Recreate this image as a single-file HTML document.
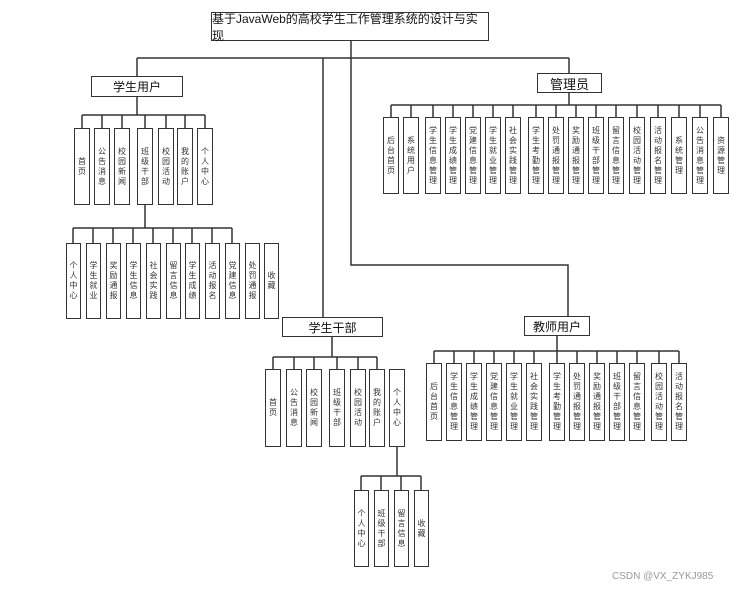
<!DOCTYPE html>
<html><head><meta charset="utf-8"><style>
body{margin:0;background:#fff;}
#c{position:relative;width:748px;height:591px;overflow:hidden;font-family:"Liberation Sans","Noto Sans CJK SC",sans-serif;}
.h{position:absolute;border:1.5px solid #333;background:#fff;box-sizing:border-box;display:flex;align-items:center;justify-content:center;font-size:12px;color:#111;}
.b{position:absolute;border:1.5px solid #333;background:#fff;box-sizing:border-box;display:flex;align-items:center;justify-content:center;}
.b span{writing-mode:vertical-rl;font-size:8px;line-height:9px;color:#333;letter-spacing:2px;}
svg{position:absolute;left:0;top:0;}
</style></head><body><div id="c">
<svg width="748" height="591" stroke="#333" stroke-width="1.5" fill="none">
<path d="M137 58H569M137 58V76M569 58V73M323 58V317M351 40V265H568V316"/>
<path d="M82 115H205M137 97V115M82 115V128M102 115V128M122 115V128M145 115V128M166 115V128M185 115V128M205 115V128"/>
<path d="M145 205V228M73 228H232M73 228V243M93 228V243M113 228V243M133 228V243M153 228V243M173 228V243M192 228V243M212 228V243M232 228V243"/>
<path d="M391 105H721M569 93V105M391 105V117M411 105V117M433 105V117M453 105V117M473 105V117M493 105V117M513 105V117M536 105V117M556 105V117M576 105V117M596 105V117M616 105V117M637 105V117M658 105V117M679 105V117M700 105V117M721 105V117"/>
<path d="M273 357H377M332 337V357M273 357V369M294 357V369M314 357V369M337 357V369M358 357V369M377 357V369"/>
<path d="M397 447V476M361 476H421M361 476V490M381 476V490M401 476V490M421 476V490"/>
<path d="M434 351H679M557 336V351M434 351V363M454 351V363M474 351V363M494 351V363M514 351V363M534 351V363M557 351V363M577 351V363M597 351V363M617 351V363M637 351V363M659 351V363M679 351V363"/>
</svg>
<div class="h" style="left:211px;top:12px;width:278px;height:29px;font-size:12px">基于JavaWeb的高校学生工作管理系统的设计与实现</div>
<div class="h" style="left:91px;top:76px;width:92px;height:21px">学生用户</div>
<div class="h" style="left:537px;top:73px;width:65px;height:20px;font-size:13px">管理员</div>
<div class="h" style="left:282px;top:317px;width:101px;height:20px">学生干部</div>
<div class="h" style="left:524px;top:316px;width:66px;height:20px">教师用户</div>

<div class="b" style="left:74px;top:128px;width:16px;height:77px"><span>首页</span></div>
<div class="b" style="left:94px;top:128px;width:16px;height:77px"><span>公告消息</span></div>
<div class="b" style="left:114px;top:128px;width:16px;height:77px"><span>校园新闻</span></div>
<div class="b" style="left:137px;top:128px;width:16px;height:77px"><span>班级干部</span></div>
<div class="b" style="left:158px;top:128px;width:16px;height:77px"><span>校园活动</span></div>
<div class="b" style="left:177px;top:128px;width:16px;height:77px"><span>我的账户</span></div>
<div class="b" style="left:197px;top:128px;width:16px;height:77px"><span>个人中心</span></div>

<div class="b" style="left:66px;top:243px;width:15px;height:76px"><span>个人中心</span></div>
<div class="b" style="left:86px;top:243px;width:15px;height:76px"><span>学生就业</span></div>
<div class="b" style="left:106px;top:243px;width:15px;height:76px"><span>奖励通报</span></div>
<div class="b" style="left:126px;top:243px;width:15px;height:76px"><span>学生信息</span></div>
<div class="b" style="left:146px;top:243px;width:15px;height:76px"><span>社会实践</span></div>
<div class="b" style="left:166px;top:243px;width:15px;height:76px"><span>留言信息</span></div>
<div class="b" style="left:185px;top:243px;width:15px;height:76px"><span>学生成绩</span></div>
<div class="b" style="left:205px;top:243px;width:15px;height:76px"><span>活动报名</span></div>
<div class="b" style="left:225px;top:243px;width:15px;height:76px"><span>党建信息</span></div>
<div class="b" style="left:245px;top:243px;width:15px;height:76px"><span>处罚通报</span></div>
<div class="b" style="left:264px;top:243px;width:15px;height:76px"><span>收藏</span></div>

<div class="b" style="left:383px;top:117px;width:16px;height:77px"><span>后台首页</span></div>
<div class="b" style="left:403px;top:117px;width:16px;height:77px"><span>系统用户</span></div>
<div class="b" style="left:425px;top:117px;width:16px;height:77px"><span>学生信息管理</span></div>
<div class="b" style="left:445px;top:117px;width:16px;height:77px"><span>学生成绩管理</span></div>
<div class="b" style="left:465px;top:117px;width:16px;height:77px"><span>党建信息管理</span></div>
<div class="b" style="left:485px;top:117px;width:16px;height:77px"><span>学生就业管理</span></div>
<div class="b" style="left:505px;top:117px;width:16px;height:77px"><span>社会实践管理</span></div>
<div class="b" style="left:528px;top:117px;width:16px;height:77px"><span>学生考勤管理</span></div>
<div class="b" style="left:548px;top:117px;width:16px;height:77px"><span>处罚通报管理</span></div>
<div class="b" style="left:568px;top:117px;width:16px;height:77px"><span>奖励通报管理</span></div>
<div class="b" style="left:588px;top:117px;width:16px;height:77px"><span>班级干部管理</span></div>
<div class="b" style="left:608px;top:117px;width:16px;height:77px"><span>留言信息管理</span></div>
<div class="b" style="left:629px;top:117px;width:16px;height:77px"><span>校园活动管理</span></div>
<div class="b" style="left:650px;top:117px;width:16px;height:77px"><span>活动报名管理</span></div>
<div class="b" style="left:671px;top:117px;width:16px;height:77px"><span>系统管理</span></div>
<div class="b" style="left:692px;top:117px;width:16px;height:77px"><span>公告消息管理</span></div>
<div class="b" style="left:713px;top:117px;width:16px;height:77px"><span>资源管理</span></div>

<div class="b" style="left:265px;top:369px;width:16px;height:78px"><span>首页</span></div>
<div class="b" style="left:286px;top:369px;width:16px;height:78px"><span>公告消息</span></div>
<div class="b" style="left:306px;top:369px;width:16px;height:78px"><span>校园新闻</span></div>
<div class="b" style="left:329px;top:369px;width:16px;height:78px"><span>班级干部</span></div>
<div class="b" style="left:350px;top:369px;width:16px;height:78px"><span>校园活动</span></div>
<div class="b" style="left:369px;top:369px;width:16px;height:78px"><span>我的账户</span></div>
<div class="b" style="left:389px;top:369px;width:16px;height:78px"><span>个人中心</span></div>

<div class="b" style="left:354px;top:490px;width:15px;height:77px"><span>个人中心</span></div>
<div class="b" style="left:374px;top:490px;width:15px;height:77px"><span>班级干部</span></div>
<div class="b" style="left:394px;top:490px;width:15px;height:77px"><span>留言信息</span></div>
<div class="b" style="left:414px;top:490px;width:15px;height:77px"><span>收藏</span></div>

<div class="b" style="left:426px;top:363px;width:16px;height:78px"><span>后台首页</span></div>
<div class="b" style="left:446px;top:363px;width:16px;height:78px"><span>学生信息管理</span></div>
<div class="b" style="left:466px;top:363px;width:16px;height:78px"><span>学生成绩管理</span></div>
<div class="b" style="left:486px;top:363px;width:16px;height:78px"><span>党建信息管理</span></div>
<div class="b" style="left:506px;top:363px;width:16px;height:78px"><span>学生就业管理</span></div>
<div class="b" style="left:526px;top:363px;width:16px;height:78px"><span>社会实践管理</span></div>
<div class="b" style="left:549px;top:363px;width:16px;height:78px"><span>学生考勤管理</span></div>
<div class="b" style="left:569px;top:363px;width:16px;height:78px"><span>处罚通报管理</span></div>
<div class="b" style="left:589px;top:363px;width:16px;height:78px"><span>奖励通报管理</span></div>
<div class="b" style="left:609px;top:363px;width:16px;height:78px"><span>班级干部管理</span></div>
<div class="b" style="left:629px;top:363px;width:16px;height:78px"><span>留言信息管理</span></div>
<div class="b" style="left:651px;top:363px;width:16px;height:78px"><span>校园活动管理</span></div>
<div class="b" style="left:671px;top:363px;width:16px;height:78px"><span>活动报名管理</span></div>

<div style="position:absolute;left:612px;top:571px;font-size:10px;color:#999">CSDN @VX_ZYKJ985</div>
</div></body></html>
